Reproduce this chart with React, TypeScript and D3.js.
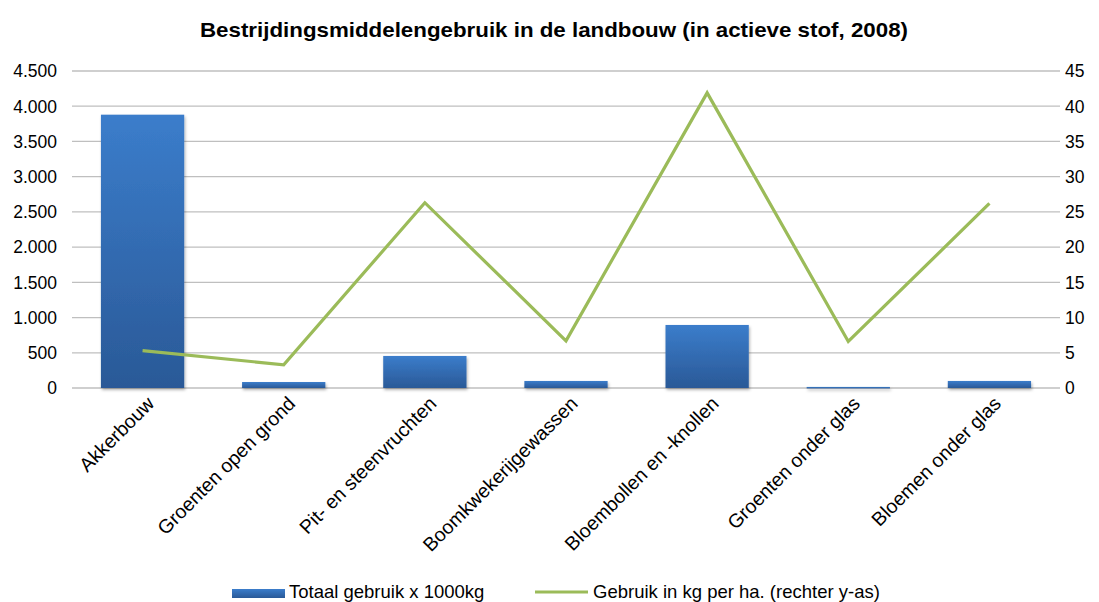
import React, { useEffect, useRef } from 'react';
import * as d3 from 'd3';

const categories = [
  'Akkerbouw',
  'Groenten open grond',
  'Pit- en steenvruchten',
  'Boomkwekerijgewassen',
  'Bloembollen en -knollen',
  'Groenten onder glas',
  'Bloemen onder glas',
];
const totaalGebruik = [3880, 85, 455, 100, 895, 15, 100];
const gebruikPerHa = [5.3, 3.3, 26.3, 6.7, 41.9, 6.6, 26.2];
const leftTicks = [0, 500, 1000, 1500, 2000, 2500, 3000, 3500, 4000, 4500];
const rightTicks = [0, 5, 10, 15, 20, 25, 30, 35, 40, 45];

const fmt = (v: number) => d3.format(',')(v).replace(/,/g, '.');

export default function App() {
  const ref = useRef<SVGSVGElement>(null);

  useEffect(() => {
    const width = 1099;
    const marginLeft = 72;
    const marginRight = 39;
    const marginTop = 71;
    const plotBottom = 388;

    const svg = d3.select(ref.current);
    svg.selectAll('*').remove();
    svg.attr('font-family', '"Liberation Sans", Arial, sans-serif');

    const defs = svg.append('defs');
    const grad = defs
      .append('linearGradient')
      .attr('id', 'barGrad')
      .attr('x1', 0)
      .attr('y1', 0)
      .attr('x2', 0)
      .attr('y2', 1);
    grad.append('stop').attr('offset', '0%').attr('stop-color', '#3b7dcb');
    grad.append('stop').attr('offset', '100%').attr('stop-color', '#2a5997');

    const shadow = defs.append('filter').attr('id', 'shadow').attr('x', '-10%').attr('y', '-10%').attr('width', '130%').attr('height', '130%');
    shadow.append('feDropShadow').attr('dx', 1).attr('dy', 2).attr('stdDeviation', 1.5).attr('flood-color', '#000').attr('flood-opacity', 0.3);

    const x = d3
      .scaleBand()
      .domain(categories)
      .range([marginLeft, width - marginRight])
      .paddingInner(0.41)
      .paddingOuter(0.205);

    const yL = d3.scaleLinear().domain([0, 4500]).range([plotBottom, marginTop]);
    const yR = d3.scaleLinear().domain([0, 45]).range([plotBottom, marginTop]);

    // title
    svg
      .append('text')
      .attr('x', 554)
      .attr('y', 37)
      .attr('text-anchor', 'middle')
      .attr('font-weight', 'bold')
      .attr('font-size', 21)
      .attr('fill', '#000')
      .attr('textLength', 708)
      .attr('lengthAdjust', 'spacingAndGlyphs')
      .text('Bestrijdingsmiddelengebruik in de landbouw (in actieve stof, 2008)');

    // gridlines
    svg
      .append('g')
      .attr('class', 'grid')
      .selectAll('line')
      .data(leftTicks)
      .join('line')
      .attr('x1', marginLeft)
      .attr('x2', width - marginRight)
      .attr('y1', (d) => yL(d))
      .attr('y2', (d) => yL(d))
      .attr('stroke', '#bfbfbf')
      .attr('stroke-width', 1.3);

    // left axis labels
    svg
      .append('g')
      .selectAll('text')
      .data(leftTicks)
      .join('text')
      .attr('x', 57)
      .attr('y', (d) => yL(d))
      .attr('dy', '0.36em')
      .attr('text-anchor', 'end')
      .attr('font-size', 17.5)
      .attr('fill', '#000')
      .text((d) => fmt(d));

    // right axis labels
    svg
      .append('g')
      .selectAll('text')
      .data(rightTicks)
      .join('text')
      .attr('x', 1065)
      .attr('y', (d) => yR(d))
      .attr('dy', '0.36em')
      .attr('text-anchor', 'start')
      .attr('font-size', 17.5)
      .attr('fill', '#000')
      .text((d) => String(d));

    // bars
    svg
      .append('g')
      .attr('class', 'bars')
      .attr('filter', 'url(#shadow)')
      .selectAll('rect')
      .data(totaalGebruik)
      .join('rect')
      .attr('x', (d, i) => x(categories[i]) as number)
      .attr('y', (d) => yL(d))
      .attr('width', x.bandwidth())
      .attr('height', (d) => Math.max(plotBottom - yL(d), 1.5))
      .attr('fill', 'url(#barGrad)');

    // line
    const line = d3
      .line<number>()
      .x((d, i) => (x(categories[i]) as number) + x.bandwidth() / 2)
      .y((d) => yR(d));

    svg
      .append('path')
      .datum(gebruikPerHa)
      .attr('d', line)
      .attr('fill', 'none')
      .attr('stroke', '#9bbb59')
      .attr('stroke-width', 3.2)
      .attr('stroke-linejoin', 'miter');

    // x labels
    svg
      .append('g')
      .selectAll('text')
      .data(categories)
      .join('text')
      .attr('transform', (d) => `translate(${(x(d) as number) + x.bandwidth() / 2 + 8},${plotBottom + 12}) rotate(-45)`)
      .attr('text-anchor', 'end')
      .attr('dy', '0.35em')
      .attr('font-size', 19.5)
      .attr('fill', '#000')
      .text((d) => d);

    // legend
    const lg = svg.append('g');
    lg.append('rect')
      .attr('x', 232)
      .attr('y', 589)
      .attr('width', 53)
      .attr('height', 9)
      .attr('fill', 'url(#barGrad)');
    lg.append('text')
      .attr('x', 289)
      .attr('y', 598)
      .attr('font-size', 18.5)
      .attr('fill', '#000')
      .text('Totaal gebruik x 1000kg');
    lg.append('line')
      .attr('x1', 535)
      .attr('x2', 588)
      .attr('y1', 592)
      .attr('y2', 592)
      .attr('stroke', '#9bbb59')
      .attr('stroke-width', 3.2);
    lg.append('text')
      .attr('x', 593)
      .attr('y', 598)
      .attr('font-size', 18.5)
      .attr('fill', '#000')
      .text('Gebruik in kg per ha. (rechter y-as)');
  }, []);

  return (
    <svg
      ref={ref}
      width={1099}
      height={602}
      style={{ position: 'absolute', left: 0, top: 0, background: '#fff' }}
    />
  );
}
